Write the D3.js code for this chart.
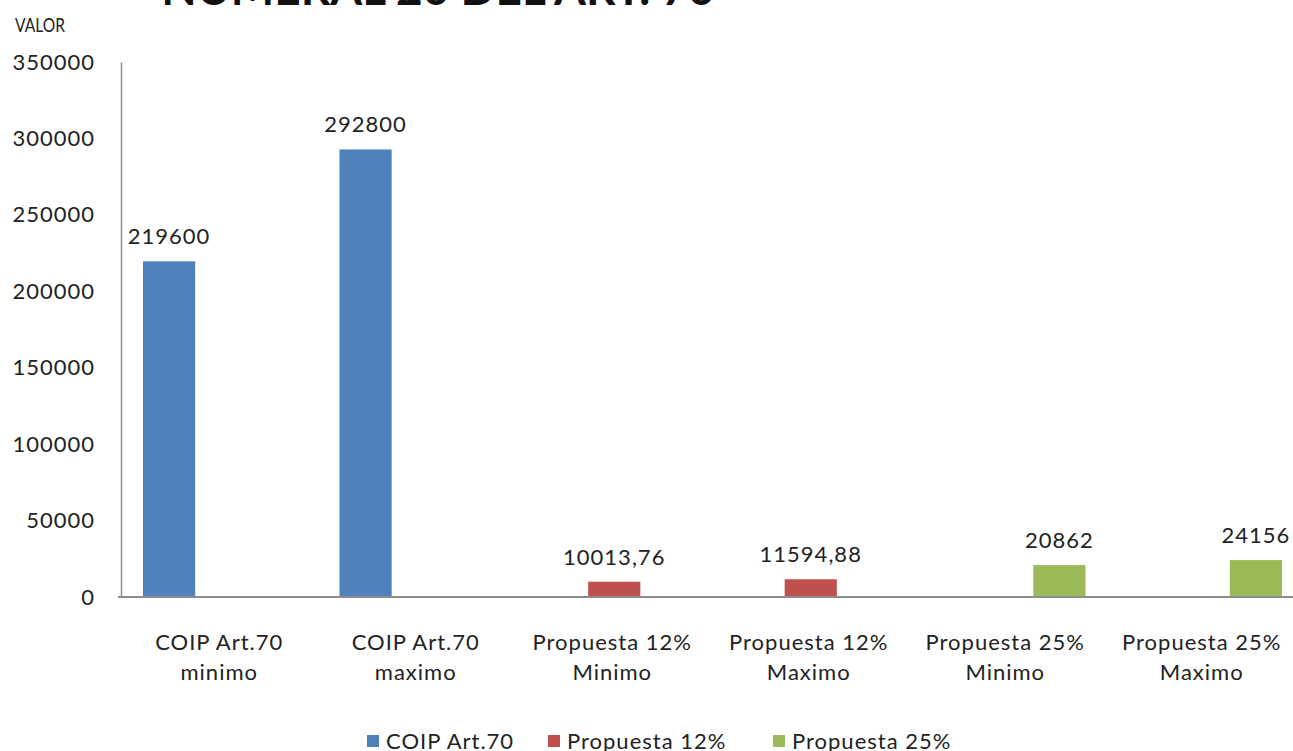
<!DOCTYPE html>
<html><head><meta charset="utf-8">
<script src="https://cdn.jsdelivr.net/npm/d3@7"></script>
<style>body{margin:0;background:#fff;overflow:hidden}svg{display:block}text{font-family:Lato,"Open Sans",sans-serif}</style>
</head><body><svg id="c" width="1293" height="751"></svg>
<script>
const categories = [["COIP Art.70","minimo"],["COIP Art.70","maximo"],["Propuesta 12%","Minimo"],["Propuesta 12%","Maximo"],["Propuesta 25%","Minimo"],["Propuesta 25%","Maximo"]];
const seriesNames = ["COIP Art.70","Propuesta 12%","Propuesta 25%"];
const coipValues = [219600, 292800, null, null, null, null];
const p12Values = [null, null, 10013.76, 11594.88, null, null];
const p25Values = [null, null, null, null, 20862, 24156];
const valueLabels = ["219600","292800","10013,76","11594,88","20862","24156"];
const yTicks = [0,50000,100000,150000,200000,250000,300000,350000];
const colors = ["#4F81BD","#C0504D","#9BBB59"];
const titleText = "NUMERAL 20 DEL ART. 70";
const yTitle = "VALOR";

(function(){
const svg = d3.select("#c");
const pLeft = 121, pRight = 1300, pTop = 62, pBottom = 597;
const LS = "1px", FS = 22;
const y = d3.scaleLinear().domain([0,350000]).range([pBottom, pTop]);
const x0 = d3.scaleBand().domain(d3.range(categories.length)).range([pLeft, pRight]).padding(0);
const x1 = d3.scaleBand().domain([0,1,2]).range([22, x0.bandwidth()-18]).padding(0);

svg.append("text").attr("x",438).attr("y",5).attr("text-anchor","middle")
  .attr("font-size",46).attr("font-weight","bold").attr("fill","#111").text(titleText);
svg.append("text").attr("transform","translate(15,32) scale(0.82,1)").attr("font-size",19).attr("fill","#222").text(yTitle);

const yAxis = d3.axisLeft(y).tickValues(yTicks).tickSize(0).tickPadding(26).tickFormat(d3.format("d"));
const ga = svg.append("g").attr("transform",`translate(${pLeft},0)`).call(yAxis);
ga.select(".domain").attr("stroke","#8c8c8c").attr("stroke-width",1.5);
ga.selectAll("text").attr("font-size",FS).attr("letter-spacing",LS).attr("fill","#222").attr("font-family","Lato,sans-serif");

const series = [coipValues, p12Values, p25Values];
series.forEach((vals, s) => {
  vals.forEach((v, i) => {
    if (v == null) return;
    const bx = x0(i) + x1(s);
    svg.append("rect").attr("x", bx).attr("y", y(v)).attr("width", x1.bandwidth()).attr("height", y(0)-y(v)).attr("fill", colors[s]);
    svg.append("text").attr("x", bx + x1.bandwidth()/2).attr("y", y(v)-17).attr("text-anchor","middle")
      .attr("font-size",FS).attr("letter-spacing",LS).attr("fill","#222").text(valueLabels[i]);
  });
});

svg.append("line").attr("x1",118).attr("x2",1293).attr("y1",y(0)).attr("y2",y(0)).attr("stroke","#8c8c8c").attr("stroke-width",2);
categories.forEach((c,i)=>{
  const cx = x0(i)+x0.bandwidth()/2;
  c.forEach((line,j)=>{
    svg.append("text").attr("x",cx).attr("y",650+j*30).attr("text-anchor","middle").attr("font-size",FS).attr("letter-spacing",LS).attr("fill","#222").text(line);
  });
});

const legX = [367, 548, 773];
seriesNames.forEach((n,i)=>{
  svg.append("rect").attr("x",legX[i]).attr("y",735).attr("width",12).attr("height",12).attr("fill",colors[i]);
  svg.append("text").attr("x",legX[i]+19).attr("y",749).attr("font-size",FS).attr("letter-spacing",LS).attr("fill","#222").text(n);
});
})();
</script></body></html>
